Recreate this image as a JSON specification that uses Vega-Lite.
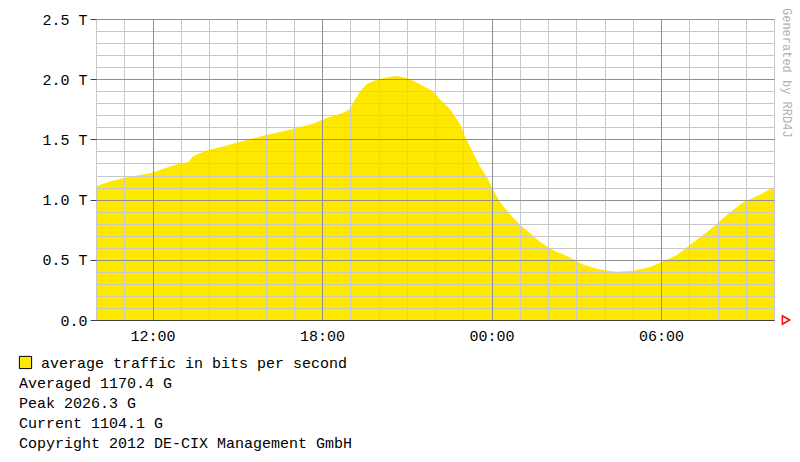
{
  "$schema": "https://vega.github.io/schema/vega-lite/v6.json",
  "width": 678,
  "height": 301,
  "autosize": {"type": "none"},
  "padding": {"left": 96, "top": 19, "right": 26, "bottom": 142},
  "background": "#ffffff",
  "title": {
    "text": ["Averaged 1170.4 G", "Peak 2026.3 G", "Current 1104.1 G", "Copyright 2012 DE-CIX Management GmbH"],
    "orient": "bottom",
    "anchor": "start",
    "frame": "group",
    "dx": -77,
    "offset": 5,
    "font": "Liberation Mono",
    "fontSize": 15,
    "fontWeight": "normal",
    "color": "#000000",
    "lineHeight": 20
  },
  "datasets": {
    "traffic": [
      {"time": "2012-10-15T10:00:00Z", "bps": 1.11e12},
      {"time": "2012-10-15T10:30:00Z", "bps": 1.15e12},
      {"time": "2012-10-15T10:58:00Z", "bps": 1.18e12},
      {"time": "2012-10-15T11:27:00Z", "bps": 1.20e12},
      {"time": "2012-10-15T11:57:00Z", "bps": 1.22e12},
      {"time": "2012-10-15T12:26:00Z", "bps": 1.26e12},
      {"time": "2012-10-15T12:58:00Z", "bps": 1.30e12},
      {"time": "2012-10-15T13:16:00Z", "bps": 1.31e12},
      {"time": "2012-10-15T13:26:00Z", "bps": 1.36e12},
      {"time": "2012-10-15T13:56:00Z", "bps": 1.41e12},
      {"time": "2012-10-15T14:30:00Z", "bps": 1.44e12},
      {"time": "2012-10-15T15:06:00Z", "bps": 1.48e12},
      {"time": "2012-10-15T15:55:00Z", "bps": 1.53e12},
      {"time": "2012-10-15T16:52:00Z", "bps": 1.58e12},
      {"time": "2012-10-15T17:41:00Z", "bps": 1.63e12},
      {"time": "2012-10-15T18:11:00Z", "bps": 1.68e12},
      {"time": "2012-10-15T18:44:00Z", "bps": 1.72e12},
      {"time": "2012-10-15T18:59:00Z", "bps": 1.75e12},
      {"time": "2012-10-15T19:10:00Z", "bps": 1.83e12},
      {"time": "2012-10-15T19:21:00Z", "bps": 1.90e12},
      {"time": "2012-10-15T19:35:00Z", "bps": 1.96e12},
      {"time": "2012-10-15T19:59:00Z", "bps": 2.00e12},
      {"time": "2012-10-15T20:25:00Z", "bps": 2.02e12},
      {"time": "2012-10-15T20:35:00Z", "bps": 2.026e12},
      {"time": "2012-10-15T20:46:00Z", "bps": 2.02e12},
      {"time": "2012-10-15T21:01:00Z", "bps": 2.01e12},
      {"time": "2012-10-15T21:22:00Z", "bps": 1.97e12},
      {"time": "2012-10-15T21:56:00Z", "bps": 1.90e12},
      {"time": "2012-10-15T22:11:00Z", "bps": 1.83e12},
      {"time": "2012-10-15T22:32:00Z", "bps": 1.75e12},
      {"time": "2012-10-15T22:53:00Z", "bps": 1.63e12},
      {"time": "2012-10-15T23:04:00Z", "bps": 1.52e12},
      {"time": "2012-10-15T23:21:00Z", "bps": 1.39e12},
      {"time": "2012-10-15T23:35:00Z", "bps": 1.28e12},
      {"time": "2012-10-15T23:50:00Z", "bps": 1.19e12},
      {"time": "2012-10-16T00:01:00Z", "bps": 1.10e12},
      {"time": "2012-10-16T00:18:00Z", "bps": 0.98e12},
      {"time": "2012-10-16T00:39:00Z", "bps": 0.88e12},
      {"time": "2012-10-16T01:01:00Z", "bps": 0.79e12},
      {"time": "2012-10-16T01:22:00Z", "bps": 0.72e12},
      {"time": "2012-10-16T01:43:00Z", "bps": 0.65e12},
      {"time": "2012-10-16T02:11:00Z", "bps": 0.58e12},
      {"time": "2012-10-16T02:47:00Z", "bps": 0.52e12},
      {"time": "2012-10-16T03:14:00Z", "bps": 0.46e12},
      {"time": "2012-10-16T03:50:00Z", "bps": 0.42e12},
      {"time": "2012-10-16T04:26:00Z", "bps": 0.40e12},
      {"time": "2012-10-16T05:01:00Z", "bps": 0.41e12},
      {"time": "2012-10-16T05:37:00Z", "bps": 0.44e12},
      {"time": "2012-10-16T05:58:00Z", "bps": 0.475e12},
      {"time": "2012-10-16T06:34:00Z", "bps": 0.54e12},
      {"time": "2012-10-16T07:02:00Z", "bps": 0.625e12},
      {"time": "2012-10-16T07:44:00Z", "bps": 0.75e12},
      {"time": "2012-10-16T08:20:00Z", "bps": 0.875e12},
      {"time": "2012-10-16T08:54:00Z", "bps": 0.975e12},
      {"time": "2012-10-16T09:30:00Z", "bps": 1.04e12},
      {"time": "2012-10-16T10:00:00Z", "bps": 1.104e12}
    ],
    "arrow": [
      {"time": "2012-10-16T10:00:00Z", "bps": 0}
    ],
    "credit": [
      {"time": "2012-10-16T10:00:00Z", "bps": 2.5e12, "label": "Generated by RRD4J"}
    ]
  },
  "resolve": {"axis": {"x": "independent", "y": "independent"}},
  "layer": [
    {
      "data": {"name": "traffic"},
      "mark": {"type": "area", "interpolate": "linear"},
      "encoding": {
        "x": {
          "field": "time",
          "type": "temporal",
          "scale": {"type": "utc", "domain": [1350295200000, 1350381600000], "nice": false},
          "axis": {
            "title": null,
            "orient": "bottom",
            "values": [1350295200000, 1350298800000, 1350302400000, 1350306000000, 1350309600000, 1350313200000, 1350316800000, 1350320400000, 1350324000000, 1350327600000, 1350331200000, 1350334800000, 1350338400000, 1350342000000, 1350345600000, 1350349200000, 1350352800000, 1350356400000, 1350360000000, 1350363600000, 1350367200000, 1350370800000, 1350374400000, 1350378000000, 1350381600000],
            "labels": false,
            "ticks": false,
            "domain": false,
            "grid": true,
            "gridColor": "#c8c8c8",
            "gridOpacity": 1,
            "gridWidth": 1,
            "zindex": 1
          }
        },
        "y": {
          "field": "bps",
          "type": "quantitative",
          "scale": {"domain": [0, 2.5e12], "nice": false},
          "axis": {
            "title": null,
            "orient": "left",
            "values": [0, 1e11, 2e11, 3e11, 4e11, 5e11, 6e11, 7e11, 8e11, 9e11, 1e12, 1.1e12, 1.2e12, 1.3e12, 1.4e12, 1.5e12, 1.6e12, 1.7e12, 1.8e12, 1.9e12, 2e12, 2.1e12, 2.2e12, 2.3e12, 2.4e12, 2.5e12],
            "labels": false,
            "ticks": false,
            "domain": false,
            "grid": true,
            "gridColor": "#c8c8c8",
            "gridOpacity": 1,
            "gridWidth": 1,
            "zindex": 1
          }
        },
        "color": {
          "datum": "average traffic in bits per second",
          "scale": {"range": ["#ffe800"]},
          "legend": {
            "title": null,
            "orient": "none",
            "legendX": -78,
            "legendY": 336,
            "padding": 0,
            "symbolType": "square",
            "symbolSize": 150,
            "symbolStrokeColor": "#000000",
            "symbolStrokeWidth": 1,
            "labelFont": "Liberation Mono",
            "labelFontSize": 15,
            "labelColor": "#000000",
            "labelOffset": 8,
            "labelLimit": 0
          }
        }
      }
    },
    {
      "data": {"name": "arrow"},
      "mark": {"type": "point", "shape": "triangle-right", "filled": false, "stroke": "#ff0000", "strokeWidth": 1.5, "size": 70, "xOffset": 12, "opacity": 1},
      "encoding": {
        "x": {
          "field": "time",
          "type": "temporal",
          "axis": {
            "title": null,
            "orient": "bottom",
            "values": [1350302400000, 1350324000000, 1350345600000, 1350367200000],
            "labelExpr": "utcFormat(datum.value, '%H:%M')",
            "labelFont": "Liberation Mono",
            "labelFontSize": 15,
            "labelColor": "#000000",
            "labelPadding": 8,
            "ticks": false,
            "domain": true,
            "domainColor": "#404040",
            "domainWidth": 1,
            "grid": true,
            "gridColor": "#909090",
            "gridOpacity": 1,
            "gridWidth": 1,
            "zindex": 2
          }
        },
        "y": {
          "field": "bps",
          "type": "quantitative",
          "axis": {
            "title": null,
            "orient": "left",
            "values": [0, 5e11, 1e12, 1.5e12, 2e12, 2.5e12],
            "labelExpr": "datum.value == 0 ? '0.0' : format(datum.value / 1e12, '.1f') + ' T'",
            "labelFont": "Liberation Mono",
            "labelFontSize": 15,
            "labelColor": "#000000",
            "labelPadding": 3,
            "ticks": true,
            "tickSize": 6,
            "tickColor": "#404040",
            "domain": false,
            "grid": true,
            "gridColor": "#909090",
            "gridOpacity": 1,
            "gridWidth": 1,
            "zindex": 2
          }
        }
      }
    },
    {
      "data": {"name": "credit"},
      "mark": {"type": "text", "angle": 90, "align": "left", "baseline": "middle", "font": "Liberation Mono", "fontSize": 12, "color": "#b0b0b0", "xOffset": 13, "yOffset": -11},
      "encoding": {
        "x": {"field": "time", "type": "temporal", "axis": null},
        "y": {"field": "bps", "type": "quantitative", "axis": null},
        "text": {"field": "label"}
      }
    }
  ],
  "config": {
    "view": {"stroke": null}
  }
}
